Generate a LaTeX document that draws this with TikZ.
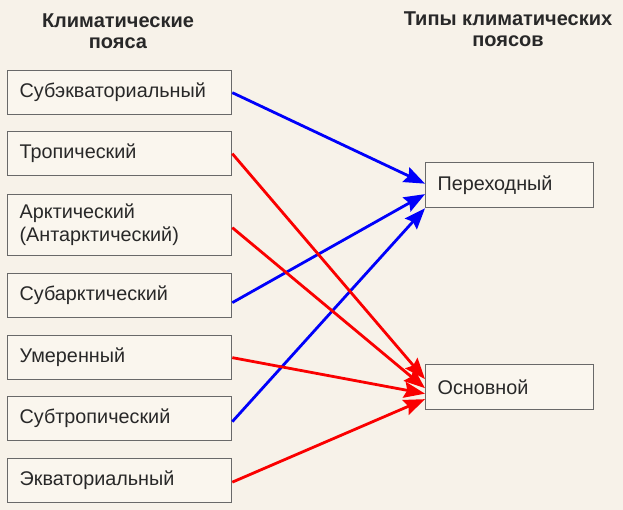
\documentclass[tikz,border=0pt]{standalone}
\usepackage{fontspec}
\setmainfont{Liberation Sans}
\usetikzlibrary{arrows.meta}
\definecolor{bgc}{RGB}{247,242,233}
\definecolor{boxfill}{RGB}{250,246,238}
\definecolor{boxline}{RGB}{105,105,105}
\definecolor{txt}{RGB}{40,40,40}
\definecolor{lblue}{RGB}{0,0,250}
\definecolor{lred}{RGB}{250,0,0}
\tikzset{
  zone/.style={draw=boxline, line width=1.3pt, fill=boxfill, anchor=north west,
    minimum width=224pt, minimum height=44pt, inner xsep=12pt, inner ysep=0pt,
    text width=200pt, align=left, text=txt, font=\fontsize{19.8}{23}\selectfont},
  typebox/.style={draw=boxline, line width=1.3pt, fill=boxfill, anchor=north west,
    minimum width=168pt, minimum height=45pt, inner xsep=12pt, inner ysep=0pt,
    text width=144pt, align=left, text=txt, font=\fontsize{19.8}{23}\selectfont},
  head/.style={align=center, text=txt, font=\fontsize{20}{21.5}\selectfont\bfseries},
  tip/.style={-{Stealth[length=21pt,width=16pt,inset=3pt]}},
  toper/.style={draw=lblue, line width=2.8pt, tip},
  toosn/.style={draw=lred, line width=2.8pt, tip}
}
\begin{document}
\begin{tikzpicture}[x=1pt,y=-1pt]
\fill[bgc] (0,0) rectangle (623,510);
\useasboundingbox (0,0) rectangle (623,510);
\node[head] (h1) at (118,31) {Климатические\\пояса};
\node[head] (h2) at (508,29) {Типы климатических\\поясов};
\node[zone] (b1) at (7,70) {Субэкваториальный};
\node[zone] (b2) at (7,131) {Тропический};
\node[zone, minimum height=61pt] (b3) at (7,194) {Арктический\\(Антарктический)};
\node[zone] (b4) at (7,273) {Субарктический};
\node[zone] (b5) at (7,335) {Умеренный};
\node[zone] (b6) at (7,396) {Субтропический};
\node[zone] (b7) at (7,458) {Экваториальный};
\node[typebox] (per) at (425,162) {Переходный};
\node[typebox] (osn) at (425,364) {Основной};
\draw[toper] (b1.east) -- ([yshift=1.5pt]per.west);
\draw[toper] ([yshift=-7pt]b4.east) -- ([yshift=-9pt]per.west);
\draw[toper] ([yshift=-3pt]b6.east) -- (per.south west);
\draw[toosn] (b2.east) -- ([yshift=8pt]osn.west);
\draw[toosn] ([yshift=-2.5pt]b3.east) -- ([yshift=-1pt]osn.west);
\draw[toosn] (b5.east) -- ([yshift=-6.5pt]osn.west);
\draw[toosn] ([yshift=-1.5pt]b7.east) -- ([yshift=-12pt]osn.west);
\end{tikzpicture}
\end{document}
